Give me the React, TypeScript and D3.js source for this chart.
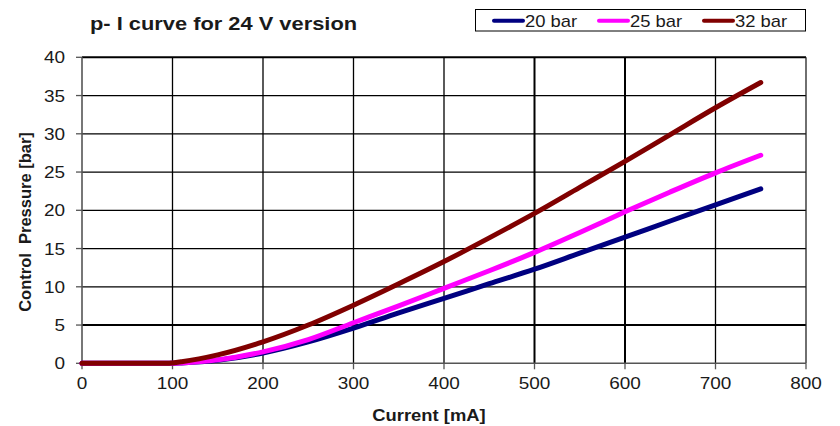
import React from "react";
import * as d3 from "d3";

const currents = [0, 50, 95, 100, 110, 150, 200, 250, 300, 350, 400, 450, 500, 550, 600, 650, 700, 750];
const bar20 = [0, 0, 0, 0, 0.05, 0.4, 1.35, 2.8, 4.6, 6.6, 8.5, 10.4, 12.3, 14.4, 16.5, 18.6, 20.7, 22.8];
const bar25 = [0, 0, 0, 0, 0.05, 0.45, 1.5, 3.1, 5.3, 7.5, 9.8, 12.1, 14.5, 17.1, 19.8, 22.4, 24.9, 27.2];
const bar32 = [0, 0, 0, 0.05, 0.2, 1.1, 2.8, 5.0, 7.6, 10.4, 13.3, 16.4, 19.6, 23.0, 26.4, 29.9, 33.4, 36.7];

const seriesNames = ["20 bar", "25 bar", "32 bar"];
const seriesColors = ["#000080", "#FF00FF", "#800000"];
const seriesValues = [bar20, bar25, bar32];

const xTicks = [0, 100, 200, 300, 400, 500, 600, 700, 800];
const yTicks = [0, 5, 10, 15, 20, 25, 30, 35, 40];

const title = "p- I curve for 24 V version";
const xLabel = "Current [mA]";
const yLabel = "Control\u00A0 Pressure [bar]";

const W = 840;
const H = 426;
const FONT = "'Liberation Sans', Arial, sans-serif";
const SX = 1.15;

function T(props: {
  x: number;
  y: number;
  size: number;
  anchor?: string;
  bold?: boolean;
  fill?: string;
  rotate?: number;
  children: React.ReactNode;
}) {
  const { x, y, size, anchor = "start", bold = false, fill = "#1a1a1a", rotate = 0, children } = props;
  const tf = rotate
    ? `translate(${x},${y}) rotate(${rotate})`
    : `translate(${x},${y}) scale(${SX},1)`;
  return (
    <text
      transform={tf}
      fontFamily={FONT}
      fontSize={size}
      fontWeight={bold ? "bold" : "normal"}
      textAnchor={anchor}
      fill={fill}
      style={{ whiteSpace: "pre" }}
    >
      {children}
    </text>
  );
}

export default function App() {
  const x = d3.scaleLinear().domain([0, 800]).range([82, 806]);
  const y = d3.scaleLinear().domain([0, 40]).range([363.3, 57.3]);

  const line = d3
    .line<[number, number]>()
    .x((d) => x(d[0]))
    .y((d) => y(d[1]))
    .curve(d3.curveMonotoneX);

  const thickY = (v: number) => v === 5 || v === 40;
  const thickX = (v: number) => v === 500 || v === 600;

  return (
    <svg
      width={W}
      height={H}
      style={{ position: "absolute", left: 0, top: 0, background: "#fff" }}
    >
      <rect x={0} y={0} width={W} height={H} fill="#fff" />
      {yTicks.slice(1).map((v) => (
        <line
          key={"h" + v}
          x1={x(0)}
          x2={x(800)}
          y1={y(v)}
          y2={y(v)}
          stroke="#000"
          strokeWidth={thickY(v) ? 2 : 1.3}
        />
      ))}
      {xTicks.slice(1).map((v) => (
        <line
          key={"v" + v}
          x1={x(v)}
          x2={x(v)}
          y1={y(40)}
          y2={y(0)}
          stroke={v === 800 ? "#222" : "#000"}
          strokeWidth={thickX(v) ? 2 : 1.3}
        />
      ))}
      <line x1={x(0)} x2={x(0)} y1={y(40)} y2={y(0)} stroke="#555" strokeWidth={1.6} />
      <line x1={x(0)} x2={x(800)} y1={y(0)} y2={y(0)} stroke="#555" strokeWidth={1.6} />
      {yTicks.map((v) => (
        <line key={"yt" + v} x1={x(0) - 6} x2={x(0)} y1={y(v)} y2={y(v)} stroke="#555" strokeWidth={1.3} />
      ))}
      {xTicks.map((v) => (
        <line key={"xt" + v} x1={x(v)} x2={x(v)} y1={y(0)} y2={y(0) + 6} stroke="#555" strokeWidth={1.3} />
      ))}
      {yTicks.map((v) => (
        <T key={"yl" + v} x={65} y={y(v) + 6} size={16.5} anchor="end">
          {v}
        </T>
      ))}
      {xTicks.map((v) => (
        <T key={"xl" + v} x={x(v)} y={389} size={16.5} anchor="middle">
          {v}
        </T>
      ))}
      {seriesValues.map((vals, i) => (
        <path
          key={seriesNames[i]}
          d={line(currents.map((c, j) => [c, vals[j]] as [number, number])) || ""}
          fill="none"
          stroke={seriesColors[i]}
          strokeWidth={5}
          strokeLinecap="round"
          strokeLinejoin="round"
        />
      ))}
      <T x={90} y={30} size={19} bold>
        {title}
      </T>
      <T x={429} y={421} size={16} bold anchor="middle">
        {xLabel}
      </T>
      <T x={31} y={222} size={16.5} bold anchor="middle" rotate={-90}>
        {yLabel}
      </T>
      <rect x={475.5} y={9.5} width={330} height={21.5} fill="#fff" stroke="#000" strokeWidth={1} />
      {seriesNames.map((n, i) => {
        const lx = [494, 599, 704][i];
        return (
          <g key={"lg" + n}>
            <line x1={lx} x2={lx + 29} y1={20.7} y2={20.7} stroke={seriesColors[i]} strokeWidth={4} strokeLinecap="round" />
            <T x={lx + 31} y={26.5} size={16}>
              {n}
            </T>
          </g>
        );
      })}
    </svg>
  );
}
